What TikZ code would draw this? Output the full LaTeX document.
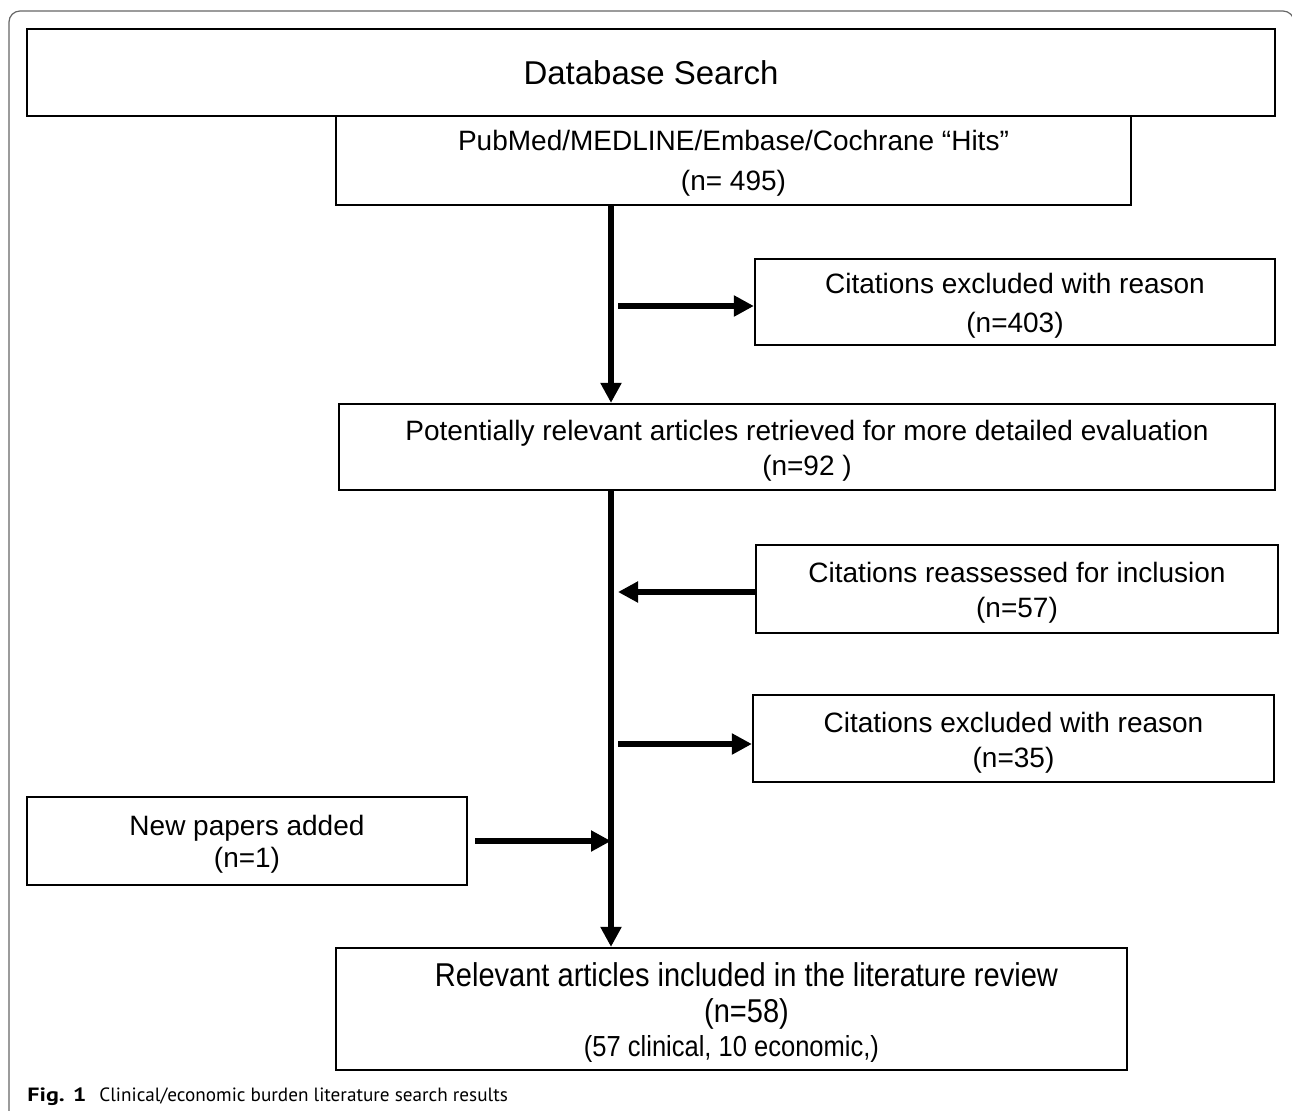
\documentclass[tikz,border=0pt]{standalone}
\usepackage{fontspec}
\setmainfont{Liberation Sans}
\newfontfamily\narrowfont[FakeStretch=0.88]{Liberation Sans}
\newfontfamily\capfont{PT Sans}
\usetikzlibrary{arrows.meta}
\newcommand\topstrut[1]{\rule{0pt}{#1}}
\begin{document}
\begin{tikzpicture}[x=0.5pt,y=-0.5pt,
  box/.style={draw, line width=1.1pt, inner sep=0pt, align=center,
    font=\fontsize{14}{17.5}\selectfont},
  arr/.style={line width=3pt, -{Triangle[length=10pt,width=10pt]}},
  frame/.style={draw=black!60, line width=0.6pt, rounded corners=5.5pt}]
\useasboundingbox (0,0) rectangle (1292,1110);
% outer frame
\draw[frame] (9,1120) -- (9,11) -- (1294,11) -- (1294,1120);
% boxes
\node[box, line width=1.4pt, minimum width=624pt, minimum height=43.5pt,
  font=\fontsize{16.5}{20}\selectfont] (db) at (651,72.5) {Database Search};
\node[box, minimum width=397.5pt, minimum height=44.5pt,
  font=\fontsize{14}{20}\selectfont] (pub) at (733.5,160.5)
  {\topstrut{12.6pt}PubMed/MEDLINE/Embase/Cochrane “Hits”\\(n= 495)};
\node[box, minimum width=260pt, minimum height=43pt,
  font=\fontsize{14}{19.5}\selectfont] (ex1) at (1015,302)
  {\topstrut{14pt}Citations excluded with reason\\(n=403)};
\node[box, minimum width=468pt, minimum height=43pt] (rel) at (807,447)
  {\topstrut{14pt}Potentially relevant articles retrieved for more detailed evaluation\\(n=92 )};
\node[box, minimum width=261pt, minimum height=44pt] (re) at (1017,589)
  {\topstrut{14pt}Citations reassessed for inclusion\\(n=57)};
\node[box, minimum width=260.5pt, minimum height=43.5pt] (ex2) at (1013.5,738.5)
  {\topstrut{14pt}Citations excluded with reason\\(n=35)};
\node[box, minimum width=220pt, minimum height=44pt,
  font=\fontsize{14}{16}\selectfont] (new) at (247,841)
  {\topstrut{13.3pt}New papers added\\(n=1)};
\node[box, minimum width=395.5pt, minimum height=61pt,
  font=\narrowfont\fontsize{16.5}{18}\selectfont] (fin) at (731.5,1009)
  {\topstrut{15pt}\hspace*{15pt}Relevant articles included in the literature review\\
   \hspace*{15pt}(n=58)\\[-1pt]
   {\fontsize{14.5}{16}\selectfont (57 clinical, 10 economic,)}};
% trunk coordinates
\coordinate (mx) at (611,0);
\coordinate (b1) at (618,306);
\coordinate (b2) at (618,592);
\coordinate (b3) at (618,744);
\coordinate (b4) at (611,841);
% connectors
\draw[arr] (pub.south -| mx) -- (rel.north -| mx);
\draw[arr] (rel.south -| mx) -- (fin.north -| mx);
\draw[arr] (b1) -- (b1 -| ex1.west);
\draw[arr] (re.west |- b2) -- (b2);
\draw[arr] (b3) -- (b3 -| ex2.west);
\draw[arr] ([xshift=3.5pt]new.east |- b4) -- (b4);
% caption
\node[anchor=base west, inner sep=0pt, font=\capfont\fontsize{9.6}{11}\selectfont]
  (cap) at (27,1101) {\makebox[36pt][l]{\scalebox{1.25}[1]{\textbf{Fig. 1}}}Clinical/economic burden literature search results};
\end{tikzpicture}
\end{document}
